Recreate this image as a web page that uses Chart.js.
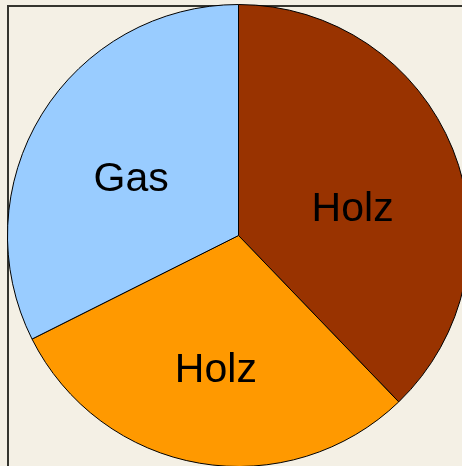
<!DOCTYPE html>
<html>
<head>
<meta charset="utf-8">
<script src="https://cdn.jsdelivr.net/npm/chart.js@4/dist/chart.umd.min.js"></script>
<style>
    html, body {
        margin: 0;
        padding: 0;
        width: 462px;
        height: 466px;
        overflow: hidden;
        background: #f4f0e5;
    }
    .frame {
        position: absolute;
        left: 7px;
        top: 5px;
        width: 480px;
        height: 480px;
        border-top: 2px solid #35352f;
        border-left: 2px solid #35352f;
    }
    .pie-box {
        position: absolute;
        left: 7px;
        top: 4px;
        width: 463px;
        height: 463px;
    }
</style>
</head>
<body>
<div class="frame"></div>
<div class="pie-box"><canvas id="pieChart" width="463" height="463"></canvas></div>
<script>
// Slice data, clockwise from 12 o'clock
const categories = ['Holz', 'Holz', 'Gas'];
const shares = [37.8, 29.8, 32.4];
const sliceColors = ['#993300', '#ff9900', '#99ccff'];

// label placement tweaks: fraction of radius, angle shift in degrees
const labelRadius = [0.51, 0.58, 0.53];
const labelAngleShift = [7.6, 0, -3];

const sliceLabels = {
    id: 'sliceLabels',
    afterDatasetsDraw(chart) {
        const ctx = chart.ctx;
        const arcs = chart.getDatasetMeta(0).data;
        ctx.save();
        ctx.font = '41px "Liberation Sans", Arial, sans-serif';
        ctx.fillStyle = '#000';
        ctx.textAlign = 'center';
        ctx.textBaseline = 'alphabetic';
        arcs.forEach((arc, i) => {
            const mid = (arc.startAngle + arc.endAngle) / 2 + labelAngleShift[i] * Math.PI / 180;
            const r = arc.outerRadius * labelRadius[i];
            const x = arc.x + Math.cos(mid) * r;
            const y = arc.y + Math.sin(mid) * r;
            ctx.fillText(categories[i], x, y + 14.5);
        });
        ctx.restore();
    }
};

const initPieChart = () => {
    const ctx = document.getElementById('pieChart').getContext('2d');
    new Chart(ctx, {
        type: 'pie',
        data: {
            labels: categories,
            datasets: [{
                data: shares,
                backgroundColor: sliceColors,
                borderColor: '#000',
                borderWidth: 1
            }]
        },
        options: {
            responsive: false,
            animation: false,
            layout: { padding: 0 },
            plugins: {
                legend: { display: false },
                tooltip: { enabled: false }
            }
        },
        plugins: [sliceLabels]
    });
};

document.addEventListener('DOMContentLoaded', () => {
    initPieChart();
});
</script>
</body>
</html>
